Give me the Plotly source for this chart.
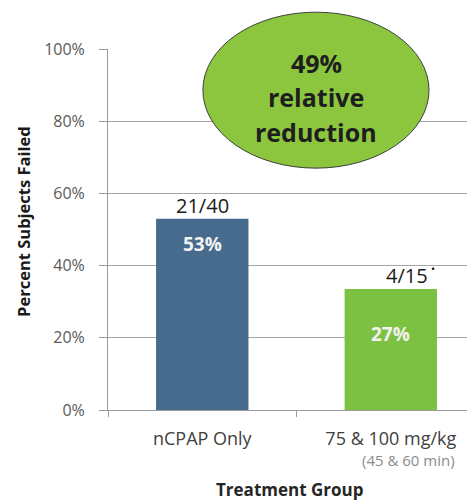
import plotly.graph_objects as go

categories = ["nCPAP Only", "75 & 100 mg/kg"]
sub_labels = ["", "(45 & 60 min)"]
bar_heights = [53, 33.5]          # drawn bar heights (% of axis)
pct_labels = ["53%", "27%"]
count_labels = ["21/40", "4/15"]
bar_colors = ["#466b8c", "#7cc142"]
y_ticks = [0, 20, 40, 60, 80, 100]
y_ticktext = [f"{v}%" for v in y_ticks]
callout_lines = ["49%", "relative", "reduction"]

FONT = "'Open Sans', sans-serif"

fig = go.Figure()
fig.add_trace(go.Bar(
    x=categories, y=bar_heights, width=0.49,
    marker=dict(color=bar_colors, line=dict(width=0)),
    hoverinfo="skip",
))

# count labels above bars
count_shift = [0, 16]
for c, v, t, xs in zip(categories, bar_heights, count_labels, count_shift):
    fig.add_annotation(x=c, y=v, text=t, showarrow=False, yanchor="bottom",
                       xshift=xs, yshift=-2,
                       font=dict(family=FONT, size=20, color="#1a1a1a"))
# asterisk dot
fig.add_annotation(x=categories[1], y=bar_heights[1], text="•", showarrow=False,
                   xanchor="center", yanchor="middle", xshift=42, yshift=21,
                   font=dict(family=FONT, size=11, color="#111111"))

# percentage labels inside bars
inside_shift = [-25, -45]
for c, v, t, ys in zip(categories, bar_heights, pct_labels, inside_shift):
    fig.add_annotation(x=c, y=v, text=f"<b>{t}</b>", showarrow=False,
                       yanchor="middle", yshift=ys,
                       font=dict(family=FONT, size=19, color="#f2f2f2"))

# sub label for the second category
fig.add_annotation(x=categories[1], y=0, text=sub_labels[1], showarrow=False,
                   yanchor="middle", xanchor="center", xshift=18, yshift=-50,
                   font=dict(family=FONT, size=15, color="#8c8c8c"))

# axis titles
fig.add_annotation(xref="paper", yref="paper", x=0.483, y=-0.2216,
                   text="<b>Treatment Group</b>", showarrow=False, yanchor="middle",
                   font=dict(family=FONT, size=17, color="#262626"))
fig.add_annotation(xref="paper", yref="paper", x=-0.224, y=0.521, textangle=-90,
                   text="<b>Percent Subjects Failed</b>", showarrow=False,
                   xanchor="center", yanchor="middle",
                   font=dict(family=FONT, size=16.5, color="#1a1a1a"))

# callout ellipse
fig.add_shape(type="circle", xref="paper", yref="paper",
              x0=0.253, x1=0.856, y0=0.67, y1=1.102,
              fillcolor="#8cc63f", line=dict(color="#3f3f3f", width=1), layer="above")
for line, yy in zip(callout_lines, [0.962, 0.866, 0.770]):
    fig.add_annotation(xref="paper", yref="paper", x=0.555, y=yy,
                       text=f"<b>{line}</b>", showarrow=False, yanchor="middle",
                       font=dict(family=FONT, size=25, color="#1e1e1e"))

fig.update_layout(
    width=475, height=502,
    margin=dict(l=100, r=0, t=41, b=100, autoexpand=False),
    paper_bgcolor="white", plot_bgcolor="white",
    showlegend=False,
    font=dict(family=FONT, color="#595959"),
    xaxis=dict(
        type="category", range=[-0.5, 1.489], automargin=False,
        showgrid=False, showline=True, linecolor="#9a9a9a", linewidth=1,
        ticks="outside", tickson="boundaries", ticklen=6, tickcolor="#9a9a9a",
        ticklabelstandoff=12,
        tickfont=dict(family=FONT, size=18, color="#404040"),
    ),
    yaxis=dict(
        range=[0, 100], tickvals=y_ticks, ticktext=y_ticktext, automargin=False,
        showgrid=True, gridcolor="#a6a6a6", gridwidth=1,
        showline=True, linecolor="#9a9a9a", linewidth=1,
        ticks="outside", ticklen=8, tickcolor="#9a9a9a",
        ticklabelstandoff=11,
        tickfont=dict(family=FONT, size=16, color="#595959"),
        zeroline=False,
    ),
)

fig.write_html("out.html")
